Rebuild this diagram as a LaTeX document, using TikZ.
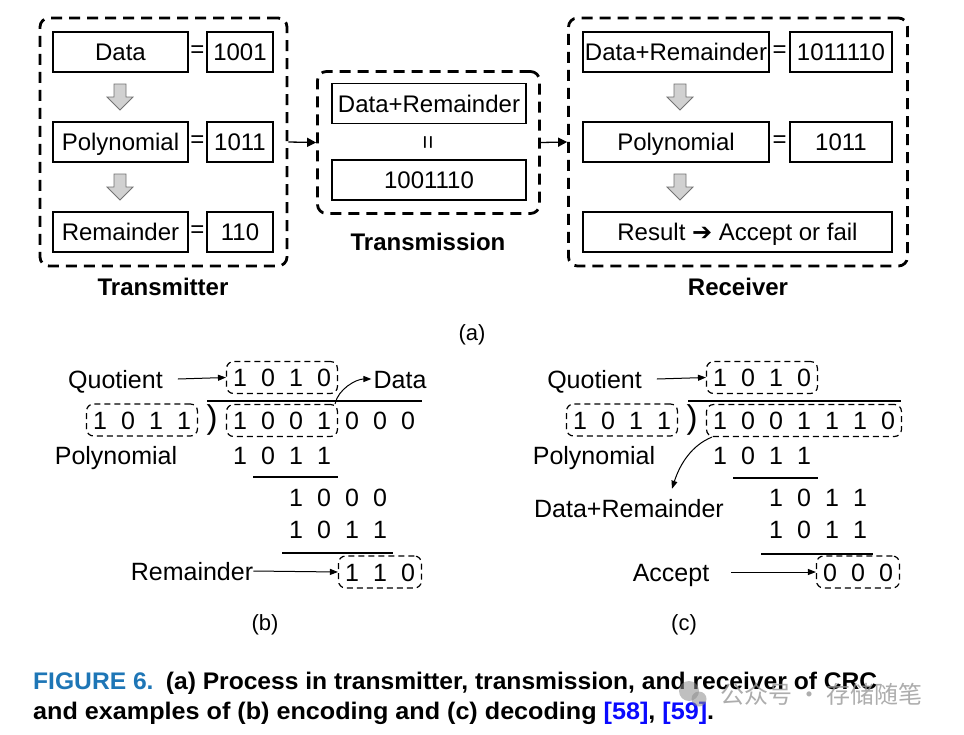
\documentclass[tikz,border=0pt]{standalone}
\usepackage{graphicx}
\usepackage{fontspec}
\setmainfont{Liberation Sans}
\newfontfamily\djv{DejaVu Sans}
\newfontfamily\cjk{Noto Sans CJK SC}
\usetikzlibrary{arrows.meta}
\definecolor{figblue}{RGB}{30,118,182}
\definecolor{refblue}{RGB}{10,10,255}
\newcommand{\dsp}{\hspace{14.1pt}}
\newcommand{\fs}[1]{\fontsize{#1}{#1}\selectfont}
\begin{document}
\begin{tikzpicture}[x=1pt,y=-1pt,
 box/.style={draw,line width=1.3pt,minimum height=40pt,inner sep=0pt,font=\fs{24},text height=17.3pt,text depth=0pt},
 eqs/.style={font=\fs{24},inner sep=0pt},
 cont/.style={draw,line width=2.8pt,dash pattern=on 11pt off 7pt,rounded corners=9pt,inner sep=0pt},
 ttl/.style={font=\bfseries\fs{24},inner sep=0pt,text height=17.3pt,text depth=0pt},
 conn/.style={line width=1.3pt,-{Triangle[length=9pt,width=9pt]}},
 lab/.style={font=\fs{25},inner sep=0pt,text height=18pt,text depth=0pt},
 dbox/.style={draw,line width=1.2pt,dash pattern=on 6pt off 4pt,rounded corners=7pt,font=\fs{25},text height=18pt,text depth=0pt,inner xsep=6.5pt,inner ysep=0pt,minimum height=32pt},
 tarrow/.style={line width=1pt,-{Triangle[length=8pt,width=6pt]}},
 divline/.style={line width=1.5pt},
 sublab/.style={font=\fs{22},inner sep=0pt},
 graydown/.pic={\draw[fill=black!18,draw=black!55,line width=0.8pt] (-6,-13)--(6,-13)--(6,0)--(13,0)--(0,13)--(-13,0)--(-6,0)--cycle;}
]
\useasboundingbox (0,0) rectangle (964,734);
\fill[white] (0,0) rectangle (964,734);

% ---------- (a) Transmitter ----------
\node[cont,minimum width=247pt,minimum height=248pt] (tx) at (163.5,142) {};
\node[box,minimum width=135pt] (td) at (120.5,52) {Data};
\node[eqs] (te1) at (197.5,52) {=};
\node[box,minimum width=66pt] (tdv) at (240,52) {1001};
\node[box,minimum width=135pt] (tp) at (120.5,142) {Polynomial};
\node[eqs] (te2) at (197.5,142) {=};
\node[box,minimum width=66pt] (tpv) at (240,142) {1011};
\node[box,minimum width=135pt] (tr) at (120.5,232) {Remainder};
\node[eqs] (te3) at (197.5,232) {=};
\node[box,minimum width=66pt] (trv) at (240,232) {110};
\pic at (120,97) {graydown};
\pic at (120,187) {graydown};
\node[ttl] (txl) at (163,287) {Transmitter};

% ---------- (a) Transmission ----------
\node[cont,minimum width=222pt,minimum height=142pt] (tm) at (428.5,142.5) {};
\node[box,minimum width=194pt] (tmd) at (429,103.5) {Data+Remainder};
\node[eqs,rotate=90] (tme) at (430,142) {=};
\node[box,minimum width=194pt] (tmv) at (429,180) {1001110};
\node[ttl] (tml) at (428,242) {Transmission};

% ---------- (a) Receiver ----------
\node[cont,minimum width=339pt,minimum height=248pt] (rx) at (738,142) {};
\node[box,minimum width=186pt] (rd) at (676,52) {Data+Remainder};
\node[eqs] (re1) at (779.5,52) {=};
\node[box,minimum width=102pt] (rdv) at (841,52) {1011110};
\node[box,minimum width=186pt] (rp) at (676,142) {Polynomial};
\node[eqs] (re2) at (779.5,142) {=};
\node[box,minimum width=102pt] (rpv) at (841,142) {1011};
\node[box,minimum width=309pt] (rr) at (737.5,232) {Result {\djv\bfseries ➔} Accept or fail};
\pic at (680,97) {graydown};
\pic at (680,187) {graydown};
\node[ttl] (rxl) at (738,287) {Receiver};

\draw[conn] (tx.east) -- (tm.west);
\draw[conn] (tm.east) -- (rx.west);

\node[sublab] (la) at (472,335) {(a)};

% ---------- (b) encoding ----------
\node[lab] (qb) at (115.5,379) {Quotient};
\node[dbox] (qvb) at (282,377.5) {1\dsp0\dsp1\dsp0};
\node[lab] (datab) at (400,379) {Data};
\draw[tarrow] ([xshift=15pt]qb.east) -- (qvb.west);
\node[dbox] (dvb) at (142,420) {1\dsp0\dsp1\dsp1};
\node[font=\fs{33},inner sep=0pt] (pb) at (212,420) {)};
\node[dbox] (nb) at (282,420.5) {1\dsp0\dsp0\dsp1};
\node[lab] (zb) at (380,420) {0\dsp0\dsp0};
\draw[divline] (207,401) -- (422,401);
\node[lab] (polb) at (116,455) {Polynomial};
\node[lab] (p1b) at (282,455) {1\dsp0\dsp1\dsp1};
\draw[divline] (253,477) -- (338,477);
\node[lab] (r1b) at (338,497) {1\dsp0\dsp0\dsp0};
\node[lab] (r2b) at (338,529) {1\dsp0\dsp1\dsp1};
\draw[divline] (282,553) -- (393,553);
\node[lab] (remb) at (192,571) {Remainder};
\node[dbox] (rvb) at (380,572) {1\dsp1\dsp0};
\draw[tarrow] (remb.east) -- (rvb.west);
\draw[tarrow] ([xshift=-3pt]nb.north east) .. controls +(3,-15) and +(-15,0) .. ([xshift=-2pt]datab.west);
\node[sublab] (lb) at (265,625) {(b)};

% ---------- (c) decoding ----------
\node[lab] (qc) at (594.5,379) {Quotient};
\node[dbox] (qvc) at (762,377.5) {1\dsp0\dsp1\dsp0};
\draw[tarrow] ([xshift=15pt]qc.east) -- (qvc.west);
\node[dbox] (dvc) at (622,420) {1\dsp0\dsp1\dsp1};
\node[font=\fs{33},inner sep=0pt] (pc) at (692,420) {)};
\node[dbox] (nc) at (804,420.5) {1\dsp0\dsp0\dsp1\dsp1\dsp1\dsp0};
\draw[divline] (688,401) -- (901,401);
\node[lab] (polc) at (594,455) {Polynomial};
\node[lab] (p1c) at (762,455) {1\dsp0\dsp1\dsp1};
\draw[divline] (733,478) -- (818,478);
\node[lab] (drc) at (629,508) {Data+Remainder};
\node[lab] (r1c) at (818,497) {1\dsp0\dsp1\dsp1};
\node[lab] (r2c) at (818,529) {1\dsp0\dsp1\dsp1};
\draw[divline] (761,554) -- (873,554);
\node[lab] (accc) at (671,572) {Accept};
\node[dbox] (avc) at (858,572) {0\dsp0\dsp0};
\draw[tarrow] ([xshift=22pt]accc.east) -- (avc.west);
\draw[tarrow] ([xshift=6pt]nc.south west) .. controls +(-20,8) and +(8,-25) .. ([xshift=43pt,yshift=10pt]drc.north);
\node[sublab] (lc) at (684,625) {(c)};

% ---------- caption ----------
\node[anchor=base west,inner sep=0pt,font=\bfseries\fs{24}] (cap1) at (33,689) {\resizebox{844pt}{\height}{\textcolor{figblue}{FIGURE 6.}\hspace{0.5em}(a) Process in transmitter, transmission, and receiver of CRC}};
\node[anchor=base west,inner sep=0pt,font=\bfseries\fs{24}] (cap2) at (33,719) {\resizebox{681pt}{\height}{and examples of (b) encoding and (c) decoding \textcolor{refblue}{[58]}, \textcolor{refblue}{[59]}.}};

% ---------- watermark ----------
\fill[black!45,opacity=0.55] (689,691) circle[radius=10pt];
\fill[black!45,opacity=0.55] (699,699) circle[radius=7.5pt];
\node[anchor=west,inner sep=0pt,font=\cjk\fs{24},text=black!40,opacity=0.8] (wm) at (720,694) {公众号 · 存储随笔};
\end{tikzpicture}
\end{document}
